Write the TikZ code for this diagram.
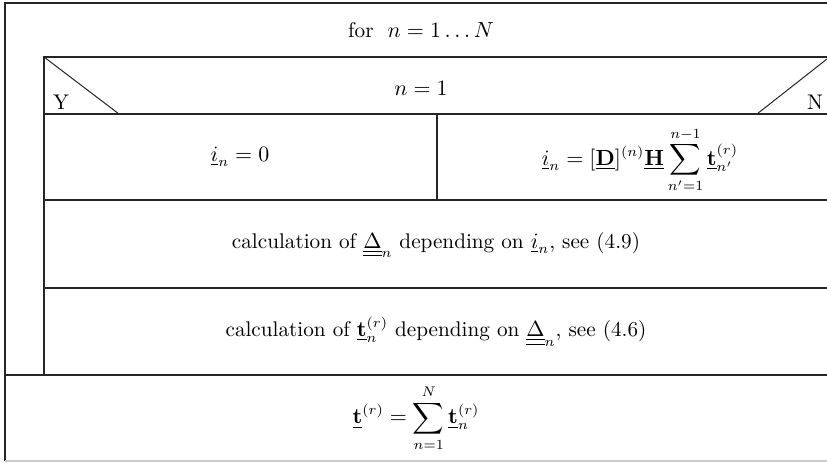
\documentclass[tikz,border=0pt]{standalone}
\usepackage{amsmath}
\begin{document}
\begin{tikzpicture}[x=0.5pt,y=-0.5pt,
  frame/.style={line width=0.9pt, draw=black!85},
  thin/.style={line width=0.5pt, draw=black!85},
  txt/.style={inner sep=0pt, font=\fontsize{10.6}{12.7}\selectfont}]
\useasboundingbox (0,0) rectangle (827,462);
% named corner coordinates
\coordinate (oTL) at (5,3);
\coordinate (oTR) at (827,3);
\coordinate (iTL) at (44,57);
\coordinate (iTR) at (827,57);
\coordinate (c1L) at (44,114);
\coordinate (c1R) at (827,114);
\coordinate (c2L) at (44,200);
\coordinate (c2R) at (827,200);
\coordinate (c3L) at (44,288);
\coordinate (c3R) at (827,288);
\coordinate (c4L) at (5,375);
\coordinate (c4M) at (44,375);
\coordinate (c4R) at (827,375);
\coordinate (oBL) at (5,461);
\coordinate (oBR) at (827,461);
\coordinate (mT) at (437,114);
\coordinate (mB) at (437,200);
\coordinate (yE) at (119,114);
\coordinate (nS) at (827,59);
\coordinate (nE) at (757,114);
% outer frame
\draw[frame] (oTR) -- (oTL) -- (oBL);
\draw[line width=0.6pt, draw=black!20] (oBL) -- (oBR);
% inner loop body
\draw[frame] (iTR) -- (iTL) -- (c4M);
\draw[frame] (c1L) -- (c1R);
\draw[frame] (c2L) -- (c2R);
\draw[frame] (c3L) -- (c3R);
\draw[frame] (c4L) -- (c4R);
\draw[frame] (mT) -- (mB);
% condition diagonals
\draw[thin] (iTL) -- (yE);
\draw[thin] (nS) -- (nE);
% texts
\node[txt] (tfor) at (421,30) {for\ \ $n=1\ldots N$};
\node[txt] (tcond) at (421,88) {$n=1$};
\node[txt] (tY) at (61,102) {Y};
\node[txt] (tN) at (815,102) {N};
\node[txt] (tyes) at (240,157) {$\underline{i}_n = 0$};
\node[txt] (tno) at (640,160) {$\displaystyle \underline{i}_n = [\underline{\mathbf{D}}]^{(n)}\underline{\mathbf{H}}\sum_{n'=1}^{n-1}\underline{\mathbf{t}}_{n'}^{(r)}$};
\node[txt] (tdelta) at (436,245) {calculation of $\underline{\underline{\Delta}}_n$ depending on $\underline{i}_n$, see (4.9)};
\node[txt] (tt) at (436,332) {calculation of $\underline{\mathbf{t}}_n^{(r)}$ depending on $\underline{\underline{\Delta}}_n$, see (4.6)};
\node[txt] (tsum) at (416,418) {$\displaystyle \underline{\mathbf{t}}^{(r)} = \sum_{n=1}^{N}\underline{\mathbf{t}}_n^{(r)}$};
\end{tikzpicture}
\end{document}
